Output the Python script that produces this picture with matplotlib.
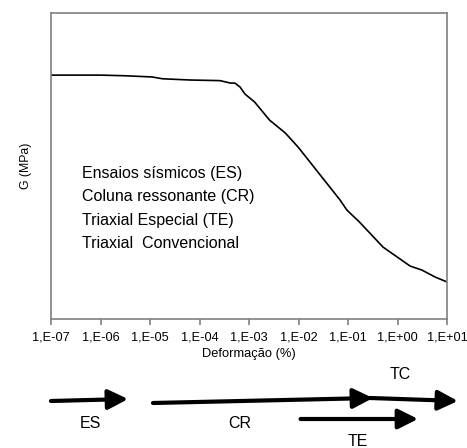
import numpy as np
import matplotlib
matplotlib.use("Agg")
import matplotlib.pyplot as plt

plt.rcParams['font.family'] = ['Liberation Sans', 'DejaVu Sans']

# curve (strain in %, G in arbitrary units)
strain = [1e-7, 1e-6, 3e-6, 1.1e-5, 1.8e-5, 6.5e-5, 2.6e-4, 4.2e-4, 5.2e-4, 6.6e-4,
          8.3e-4, 1.3e-3, 2.6e-3, 5.4e-3, 9.8e-3, 6.9e-2, 9.5e-2, 0.17, 0.51,
          1.8, 3.1, 5.8, 10]
G = [79.7, 79.7, 79.5, 79.1, 78.5, 78.1, 77.9, 77.1, 77.1, 75.8, 73.5, 70.9, 65.0,
     60.8, 56.2, 38.9, 35.6, 31.7, 23.5, 17.3, 16.0, 13.7, 12.1]

tick_vals = [1e-7, 1e-6, 1e-5, 1e-4, 1e-3, 1e-2, 1e-1, 1e0, 1e1]
tick_labels = ["1,E-07", "1,E-06", "1,E-05", "1,E-04", "1,E-03", "1,E-02",
               "1,E-01", "1,E+00", "1,E+01"]

legend_lines = ["Ensaios sísmicos (ES)", "Coluna ressonante (CR)",
                "Triaxial Especial (TE)", "Triaxial  Convencional"]

# test ranges (start, end) shown as arrows under the axis
ranges = {"ES": (1e-7, 3.6e-6), "CR": (1.15e-5, 0.32),
          "TC": (0.28, 16.6), "TE": (0.011, 2.6)}

fig = plt.figure(figsize=(4.67, 4.48), dpi=100)
ax = fig.add_axes([51/467, 129/448, 396/467, 306/448])
ax.plot(strain, G, color='black', lw=1.2)
ax.set_xscale('log')
ax.set_xlim(1e-7, 10)
ax.set_ylim(0, 100)
ax.set_xticks(tick_vals)
ax.set_xticklabels(tick_labels, fontsize=9.2)
ax.minorticks_off()
ax.set_yticks([])
for s in ax.spines.values():
    s.set_color('#808080')
    s.set_linewidth(1.2)
ax.tick_params(axis='x', direction='out', length=4, color='#808080', width=1.2, pad=5)
ax.set_xlabel("Deformação (%)", fontsize=9.3, labelpad=3)
ax.set_ylabel("G (MPa)", fontsize=8.8, labelpad=14)

for i, t in enumerate(legend_lines):
    ax.text(4.2e-7, 47.7 - i * 7.7, t, fontsize=11.5, va='center', ha='left')

# arrows below the chart
ax2 = fig.add_axes([51/467, 0, 396/467, 88/448])
ax2.set_xscale('log')
ax2.set_xlim(1e-7, 10)
ax2.set_ylim(0, 88)
ax2.axis('off')

arrow_y = {"ES": (47, 49), "CR": (45, 50), "TC": (50, 47), "TE": (29, 29)}
label_pos = {"ES": (6.2e-7, 25), "CR": (6.6e-4, 25),
             "TC": (1.12, 74), "TE": (0.16, 7)}
for k, (x0, x1) in ranges.items():
    y0, y1 = arrow_y[k]
    ax2.annotate("", xy=(x1, y1), xytext=(x0, y0),
                 arrowprops=dict(arrowstyle='-|>,head_length=0.6,head_width=0.3',
                                 lw=3, mutation_scale=20, color='black',
                                 shrinkA=0, shrinkB=0),
                 annotation_clip=False)
    lx, ly = label_pos[k]
    ax2.text(lx, ly, k, fontsize=11.5, ha='center', va='center')

fig.savefig("out.png", dpi=100)
